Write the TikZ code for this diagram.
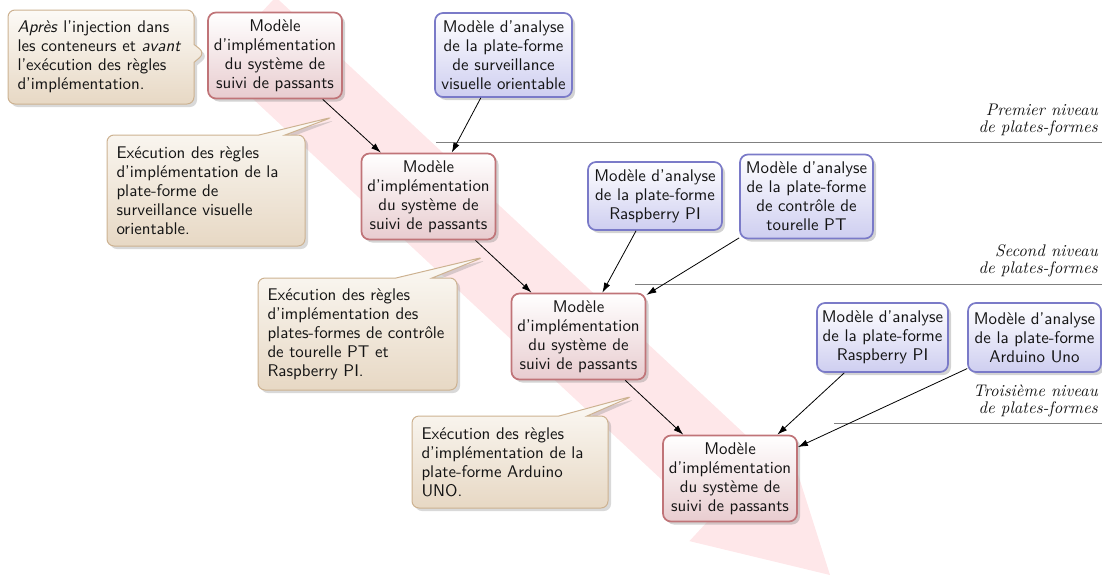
\documentclass[tikz,border=0pt]{standalone}
\usepackage{fontspec}
\setsansfont{lmsans10-regular.otf}[ItalicFont=lmsans10-oblique.otf, BoldFont=lmsans10-bold.otf]
\newfontfamily\levelfont{lmroman10-italic.otf}
\usetikzlibrary{shapes.callouts,shadows,arrows.meta}
\definecolor{redB}{RGB}{192,116,120}
\definecolor{redF}{RGB}{232,204,207}
\definecolor{blueB}{RGB}{122,122,200}
\definecolor{blueF}{RGB}{206,206,240}
\definecolor{tanB}{RGB}{205,178,145}
\definecolor{tanT}{RGB}{252,250,246}
\definecolor{tanF}{RGB}{231,216,196}
\definecolor{bandC}{RGB}{254,231,233}
\definecolor{txt}{RGB}{20,20,20}
\newcommand\oneline[1]{\mbox{#1}}
\tikzset{
  boxbase/.style={rounded corners=8pt, line width=1.7pt, align=center, inner sep=0pt, text=txt,
    drop shadow={shadow xshift=3pt, shadow yshift=-3pt, opacity=0.35}},
  redbox/.style={boxbase, draw=redB, top color=white, bottom color=redF, minimum width=134pt, minimum height=86pt},
  bluebox/.style={boxbase, draw=blueB, top color=white, bottom color=blueF, minimum width=134pt},
  note/.style={rectangle callout, rounded corners=7pt, draw=tanB, line width=1pt, top color=tanT, bottom color=tanF,
    align=left, inner xsep=9.5pt, inner ysep=0pt, text=txt,
    drop shadow={shadow xshift=3pt, shadow yshift=-3pt, opacity=0.3}},
  levellabel/.style={font=\levelfont\fontsize{16.8}{17}\selectfont, align=right, anchor=east, inner sep=0pt, text=txt},
  levelline/.style={draw=black!50, line width=0.8pt},
  link/.style={-{Latex[length=10pt,width=6.5pt]}, line width=0.8pt, draw=black}
}
\begin{document}
\begin{tikzpicture}[x=1pt,y=-1pt, font=\sffamily\fontsize{16.9}{19}\selectfont]
\useasboundingbox (0,0) rectangle (1102,576);
% background band arrow
\fill[bandC] (275.7,-2.9) -- (768.5,456.2) -- (786.2,437.1) -- (830,575) -- (689.4,541.1) -- (707.1,522.0) -- (214.3,62.9) -- cycle;
% level lines
\coordinate (l1a) at (436,142); \coordinate (l1b) at (1102,142);
\coordinate (l2a) at (635,284); \coordinate (l2b) at (1102,284);
\coordinate (l3a) at (834,423); \coordinate (l3b) at (1102,423);
\draw[levelline] (l1a) -- (l1b);
\draw[levelline] (l2a) -- (l2b);
\draw[levelline] (l3a) -- (l3b);
\node[levellabel] (lab1) at (1098,120) {Premier niveau\\de plates-formes};
\node[levellabel] (lab2) at (1098,261) {Second niveau\\de plates-formes};
\node[levellabel] (lab3) at (1098,401) {Troisième niveau\\de plates-formes};
% implementation models
\node[redbox] (r1) at (275,55.5) {Modèle\\d'implémentation\\du système de\\suivi de passants};
\node[redbox] (r2) at (428.5,196.5) {Modèle\\d'implémentation\\du système de\\suivi de passants};
\node[redbox] (r3) at (578.5,336.5) {Modèle\\d'implémentation\\du système de\\suivi de passants};
\node[redbox] (r4) at (730,478.5) {Modèle\\d'implémentation\\du système de\\suivi de passants};
% analysis models
\node[bluebox, minimum width=137pt, minimum height=84pt] (b1) at (503.5,55) {Modèle d'analyse\\de la plate-forme\\de surveillance\\visuelle orientable};
\node[bluebox, minimum height=68pt] (b2) at (655,196) {Modèle d'analyse\\de la plate-forme\\Raspberry PI};
\node[bluebox, minimum width=133pt, minimum height=84pt] (b3) at (806.5,196.5) {Modèle d'analyse\\de la plate-forme\\de contrôle de\\tourelle PT};
\node[bluebox, minimum width=131pt, minimum height=69pt] (b4) at (882.5,337.5) {Modèle d'analyse\\de la plate-forme\\Raspberry PI};
\node[bluebox, minimum width=133pt, minimum height=69pt] (b5) at (1034.5,337.5) {Modèle d'analyse\\de la plate-forme\\Arduino Uno};
% callouts
\coordinate (t1) at (205,53);
\coordinate (t2) at (333,117);
\coordinate (t3) at (484,257);
\coordinate (t4) at (633,396);
\node[note, text width=167pt, minimum height=94pt, callout absolute pointer=(t1), callout pointer width=18pt] (c1) at (101,57)
  {\oneline{\textit{Après} l'injection dans}\\\oneline{les conteneurs et \textit{avant}}\\\oneline{l'exécution des règles}\\\oneline{d'implémentation.}};
\node[note, text width=179pt, minimum height=111pt, callout absolute pointer=(t2), callout pointer width=26pt] (c2) at (206,190.5)
  {\oneline{Exécution des règles}\\\oneline{d'implémentation de la}\\\oneline{plate-forme de}\\\oneline{surveillance visuelle}\\\oneline{orientable.}};
\node[note, text width=180pt, minimum height=112pt, callout absolute pointer=(t3), callout pointer width=36pt] (c3) at (357.5,334)
  {\oneline{Exécution des règles}\\\oneline{d'implémentation des}\\\oneline{plates-formes de contrôle}\\\oneline{de tourelle PT et}\\\oneline{Raspberry PI.}};
\node[note, text width=177pt, minimum height=92pt, callout absolute pointer=(t4), callout pointer width=28pt] (c4) at (510,462)
  {\oneline{Exécution des règles}\\\oneline{d'implémentation de la}\\\oneline{plate-forme Arduino}\\\oneline{UNO.}};
% links
\draw[link] (r1) -- (r2);
\draw[link] (b1) -- (r2);
\draw[link] (r2) -- (r3);
\draw[link] (b2) -- (r3);
\draw[link] (b3) -- (r3);
\draw[link] (r3) -- (r4);
\draw[link] (b4) -- (r4);
\draw[link] (b5) -- (r4);
\end{tikzpicture}
\end{document}
